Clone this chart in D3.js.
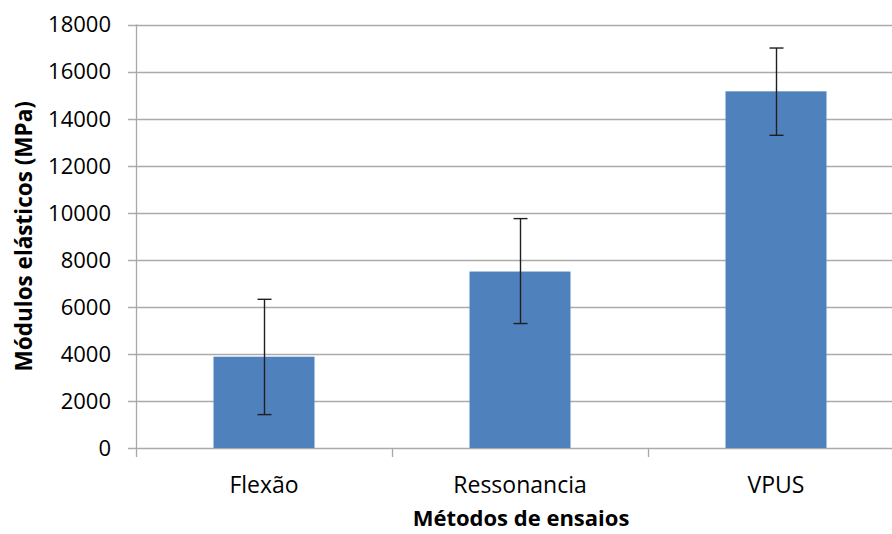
<!DOCTYPE html>
<html>
<head>
<meta charset="utf-8">
<script src="https://cdn.jsdelivr.net/npm/d3@7"></script>
<style>
  body { margin: 0; background: #fff; }
  svg { display: block; }
  text { font-family: "Open Sans", sans-serif; fill: #000; }
</style>
</head>
<body>
<svg id="chart" width="892" height="534"></svg>
<script>
const categories = ["Flexão", "Ressonancia", "VPUS"];
const values = [3880, 7500, 15160];
const errLow = [1420, 5290, 13290];
const errHigh = [6320, 9750, 17000];
const yTicks = [0, 2000, 4000, 6000, 8000, 10000, 12000, 14000, 16000, 18000];

const svg = d3.select("#chart");
const mLeft = 136, mRight = 904, mTop = 24.5, mBottom = 448;

const x = d3.scaleBand().domain(categories).range([mLeft, mRight]).paddingInner(0).paddingOuter(0);
const y = d3.scaleLinear().domain([0, 18000]).range([mBottom, mTop]);

// gridlines
svg.append("g").selectAll("line").data(yTicks).join("line")
  .attr("x1", mLeft - 8).attr("x2", mRight)
  .attr("y1", d => Math.round(y(d)) + 0.5).attr("y2", d => Math.round(y(d)) + 0.5)
  .attr("stroke", "#ababab").attr("stroke-width", 1.3);

// y axis line
svg.append("line").attr("x1", mLeft + 0.5).attr("x2", mLeft + 0.5)
  .attr("y1", mTop).attr("y2", mBottom + 9)
  .attr("stroke", "#a8a8a8").attr("stroke-width", 1.3);

// x category ticks
const bounds = categories.slice(1).map(c => x(c));
svg.append("g").selectAll("line").data(bounds).join("line")
  .attr("x1", d => Math.round(d) + 0.5).attr("x2", d => Math.round(d) + 0.5)
  .attr("y1", mBottom).attr("y2", mBottom + 9)
  .attr("stroke", "#a8a8a8").attr("stroke-width", 1.3);

// bars
const bw = 101;
svg.append("g").selectAll("rect").data(categories).join("rect")
  .attr("x", c => x(c) + x.bandwidth() / 2 - bw / 2)
  .attr("width", bw)
  .attr("y", (c, i) => y(values[i]))
  .attr("height", (c, i) => y(0) - y(values[i]))
  .attr("fill", "#4f81bd");

// error bars
const eb = svg.append("g").attr("stroke", "#1f1f1f").attr("stroke-width", 1.4);
categories.forEach((c, i) => {
  const cx = Math.round(x(c) + x.bandwidth() / 2) + 0.5;
  eb.append("line").attr("x1", cx).attr("x2", cx).attr("y1", y(errHigh[i])).attr("y2", y(errLow[i]));
  eb.append("line").attr("x1", cx - 7).attr("x2", cx + 7).attr("y1", y(errHigh[i])).attr("y2", y(errHigh[i]));
  eb.append("line").attr("x1", cx - 7).attr("x2", cx + 7).attr("y1", y(errLow[i])).attr("y2", y(errLow[i]));
});

// y tick labels
svg.append("g").selectAll("text").data(yTicks).join("text")
  .attr("x", 111).attr("y", d => y(d))
  .attr("dy", "0.36em")
  .attr("text-anchor", "end")
  .attr("font-size", 22)
  .text(d => d);

// x labels
svg.append("g").selectAll("text").data(categories).join("text")
  .attr("x", c => x(c) + x.bandwidth() / 2)
  .attr("y", 493)
  .attr("text-anchor", "middle")
  .attr("font-size", 23)
  .text(c => c);

// axis titles
svg.append("text")
  .attr("x", 521).attr("y", 526)
  .attr("text-anchor", "middle")
  .attr("font-size", 22).attr("font-weight", "bold")
  .text("Métodos de ensaios");

svg.append("text")
  .attr("transform", `translate(32, ${(mTop + mBottom) / 2}) rotate(-90)`)
  .attr("text-anchor", "middle")
  .attr("font-size", 22.5).attr("font-weight", "bold")
  .text("Módulos elásticos (MPa)");
</script>
</body>
</html>
